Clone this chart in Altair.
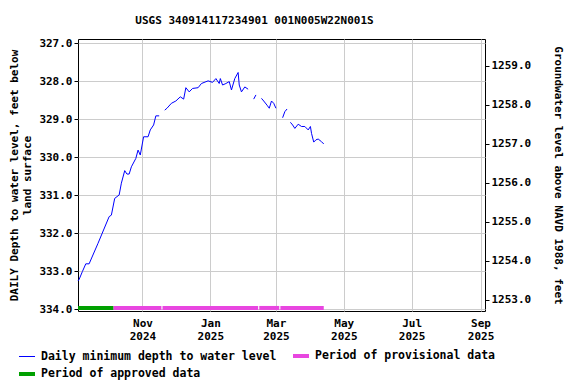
import altair as alt
import pandas as pd

# ---- data ----
dates = [
    "2024-09-04", "2024-09-05", "2024-09-08", "2024-09-11", "2024-09-14", "2024-09-22",
    "2024-10-02", "2024-10-04", "2024-10-07", "2024-10-11", "2024-10-13", "2024-10-16",
    "2024-10-18", "2024-10-20", "2024-10-22", "2024-10-26", "2024-10-28", "2024-10-30",
    "2024-11-02", "2024-11-06", "2024-11-08", "2024-11-11", "2024-11-13", "2024-11-16",
    "2024-11-21", "2024-11-23", "2024-11-27", "2024-12-01", "2024-12-05", "2024-12-08",
    "2024-12-10", "2024-12-13", "2024-12-16", "2024-12-21", "2024-12-24", "2024-12-30",
    "2025-01-03", "2025-01-06", "2025-01-09", "2025-01-10", "2025-01-12", "2025-01-15",
    "2025-01-18", "2025-01-20", "2025-01-23", "2025-01-26", "2025-01-27", "2025-01-29",
    "2025-02-01", "2025-02-04",
    "2025-02-09", "2025-02-11",
    "2025-02-16", "2025-02-18", "2025-02-21", "2025-02-23", "2025-02-25", "2025-02-27",
    "2025-03-01",
    "2025-03-07", "2025-03-09", "2025-03-11",
    "2025-03-14", "2025-03-16", "2025-03-18", "2025-03-21", "2025-03-24", "2025-03-27",
    "2025-03-30", "2025-04-01", "2025-04-02", "2025-04-04", "2025-04-06", "2025-04-08",
    "2025-04-11", "2025-04-13",
]
depths = [
    333.25, 333.21, 333.00, 332.80, 332.80, 332.26,
    331.56, 331.52, 331.08, 330.99, 330.68, 330.35,
    330.44, 330.44, 330.25, 330.03, 329.81, 329.94,
    329.46, 329.46, 329.28, 329.15, 328.91, 328.91,
    328.76, 328.71, 328.58, 328.52, 328.41, 328.47,
    328.17, 328.28, 328.19, 328.17, 328.06, 327.99,
    328.03, 327.93, 328.06, 327.93, 328.10, 328.06,
    328.01, 328.23, 327.93, 327.77, 328.10, 328.28,
    328.15, 328.21,
    328.47, 328.36,
    328.45, 328.52, 328.63, 328.71, 328.52, 328.58,
    328.71,
    328.96, 328.80, 328.73,
    329.08, 329.15, 329.24, 329.13, 329.19, 329.19,
    329.28, 329.19, 329.37, 329.60, 329.54, 329.52,
    329.59, 329.65,
]
segments = [0] * 24 + [1] * 26 + [2] * 2 + [3] * 7 + [4] * 3 + [5] * 14

period_start = ["2024-09-04", "2024-10-06", "2024-11-19", "2025-02-14", "2025-03-05"]
period_end = ["2024-10-06", "2024-11-18", "2025-02-13", "2025-03-04", "2025-04-13"]
period_kind = ["s3"] + ["s2"] * 4

left_ticks = [327, 328, 329, 330, 331, 332, 333, 334]
right_ticks = [1253, 1254, 1255, 1256, 1257, 1258, 1259]

series_keys = ["s1", "s2", "s3"]
series_names = ["Daily minimum depth to water level", "Period of provisional data",
                "Period of approved data"]
series_colors = ["#0000ff", "#e846e0", "#00a000"]

FONT = "DejaVu Sans Mono"

line_df = pd.DataFrame({"date": dates, "depth": depths, "seg": segments, "series": "s1"})
per_df = pd.DataFrame({"start": period_start, "end": period_end, "series": period_kind,
                       "depth": [333.96] * len(period_start)})
elev_df = pd.DataFrame({"elev": [1252.71, 1259.68]})

x_dom = [alt.DateTime(year=2024, month=9, date=4, utc=True),
         alt.DateTime(year=2025, month=9, date=5, utc=True)]
x_ticks = [alt.DateTime(year=y, month=m, date=1, utc=True)
           for y, m in [(2024, 11), (2025, 1), (2025, 3), (2025, 5), (2025, 7), (2025, 9)]]

x_scale = alt.Scale(type="utc", domain=x_dom)
y_scale = alt.Scale(domain=[326.89, 334.04], reverse=True, nice=False, zero=False)

label_expr = " : ".join(
    f"datum.value == '{k}' ? '{n}'" for k, n in zip(series_keys[:-1], series_names[:-1])
) + f" : '{series_names[-1]}'"

legend = alt.Legend(title=None, orient="none", legendX=-61, legendY=307, direction="horizontal",
                    columns=2, symbolType="stroke", symbolSize=256, labelExpr=label_expr,
                    labelFont=FONT, labelFontSize=11.5, labelFontWeight="bold",
                    labelColor="black", columnPadding=8, rowPadding=0,
                    labelLimit=400, symbolOffset=0)

color_enc = alt.Color("series:N", scale=alt.Scale(domain=series_keys, range=series_colors),
                      legend=legend)
sw_enc = alt.StrokeWidth("series:N", scale=alt.Scale(type="ordinal", domain=series_keys,
                                                     range=[1, 4, 4]), legend=legend)

x_axis = alt.Axis(values=x_ticks, grid=True, ticks=False, title=None,
                  labelExpr="[utcFormat(datum.value, '%b'), utcFormat(datum.value, '%Y')]",
                  labelFont=FONT, labelFontSize=11, labelFontWeight="bold", labelColor="black",
                  labelPadding=6, domain=False, labelOverlap=False)

y_axis = alt.Axis(values=left_ticks, format=".1f", grid=True, tickSize=4, labelOverlap=False,
                  title=["DAILY Depth to water level, feet below", "land surface"],
                  titleFont=FONT, titleFontSize=11, titleFontWeight="bold",
                  titleColor="black", titlePadding=6,
                  labelFont=FONT, labelFontSize=11, labelFontWeight="bold",
                  labelColor="black", domain=False, tickColor="black")

line = alt.Chart(line_df).mark_line(strokeCap="butt").encode(
    x=alt.X("date:T", scale=x_scale, axis=x_axis),
    y=alt.Y("depth:Q", scale=y_scale, axis=y_axis),
    color=color_enc,
    strokeWidth=sw_enc,
    detail="seg:N",
)

periods = alt.Chart(per_df).mark_rule(strokeCap="butt").encode(
    x=alt.X("start:T", scale=x_scale, axis=x_axis),
    x2="end:T",
    y=alt.Y("depth:Q", scale=y_scale, axis=y_axis),
    color=color_enc,
    strokeWidth=sw_enc,
)

left = alt.layer(line, periods)

right = alt.Chart(elev_df).mark_point(opacity=0).encode(
    y=alt.Y("elev:Q", scale=alt.Scale(domain=[1252.71, 1259.68], nice=False, zero=False),
            axis=alt.Axis(orient="right", values=right_ticks, format=".1f", grid=False,
                          tickSize=4, tickColor="black", labelOverlap=False,
                          title="Groundwater level above NAVD 1988, feet",
                          titleFont=FONT, titleFontSize=11, titleFontWeight="bold",
                          titleColor="black", titlePadding=22,
                          labelFont=FONT, labelFontSize=11, labelFontWeight="bold",
                          labelColor="black", domain=False))
)

chart = alt.layer(left, right).resolve_scale(y="independent").properties(
    width=407, height=272,
    title=alt.Title("USGS 340914117234901 001N005W22N001S", font=FONT, fontSize=11,
                    fontWeight="bold", color="black", anchor="middle", dx=-27, offset=10),
    autosize=alt.AutoSizeParams(type="none"),
    padding={"left": 70, "top": 31, "right": 83, "bottom": 75},
).configure_view(stroke="black", strokeWidth=1).configure_axis(
    gridColor="#cccccc", gridWidth=1
)

chart.save("out.html", embed_options={"renderer": "svg", "actions": False})
